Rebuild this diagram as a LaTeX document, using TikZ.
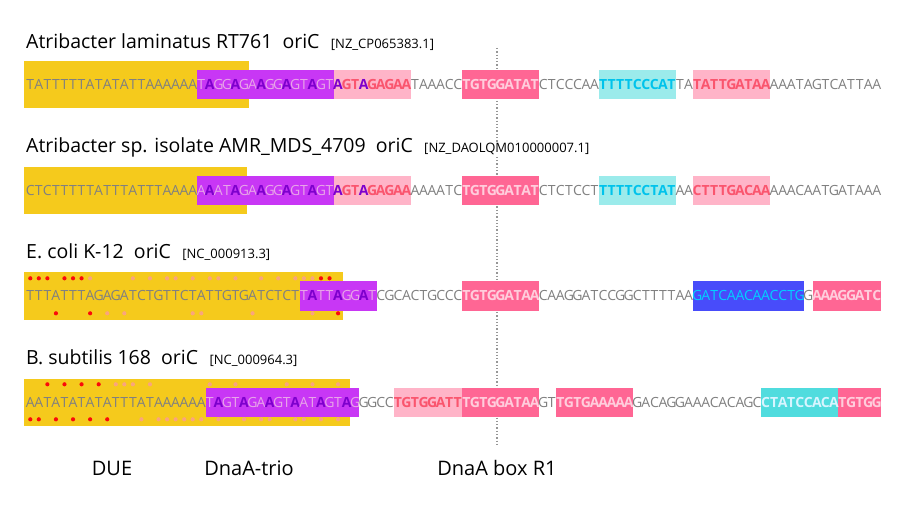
\documentclass[tikz,border=0pt]{standalone}
\usepackage{fontspec}
\setmainfont{Open Sans}
\definecolor{due}{RGB}{245,202,28}
\definecolor{purpbox}{RGB}{200,55,245}
\definecolor{pinkL}{RGB}{255,180,200}
\definecolor{pinkD}{RGB}{255,102,148}
\definecolor{cyanL}{RGB}{155,235,235}
\definecolor{cyanD}{RGB}{80,220,222}
\definecolor{blueB}{RGB}{72,76,250}
\definecolor{gtxt}{RGB}{128,128,128}
\definecolor{pltxt}{RGB}{232,165,232}
\definecolor{pdtxt}{RGB}{125,0,205}
\definecolor{rtxt}{RGB}{250,85,110}
\definecolor{ltxt}{RGB}{255,205,220}
\definecolor{ctxt}{RGB}{0,195,235}
\definecolor{btxt}{RGB}{0,210,255}
\definecolor{c2txt}{RGB}{215,245,255}
\definecolor{reddot}{RGB}{250,10,10}
\definecolor{saldot}{RGB}{250,165,125}
\definecolor{dline}{RGB}{150,150,150}
\newcount\seqidx
\def\rowy{0}
\def\rowid{a}
\newcommand\seqpart[2]{\tikzset{curch/.style={#1}}\seqloop#2\relax}
\def\seqloop#1{\ifx#1\relax\let\seqnext\relax\else\def\seqnext{\seqone{#1}\seqloop}\fi\seqnext}
\newcommand\seqone[1]{\node[seqch,curch,name=ch\rowid\the\seqidx] at ({26+(\the\seqidx+0.5)*8.55},\rowy) {#1};\global\advance\seqidx by 1\relax}
\newcommand\seqbox[4]{\fill[#1] ({26+#2*8.55},{#4-14.5}) rectangle ({26+#3*8.55},{#4+14.5});}
\newcommand\duebox[2]{\fill[due] (24,{#2-23.5}) rectangle (#1,{#2+23.5});}
\newcommand\seqdots[3]{\foreach \i in {#3} \fill[#1] ({26+(\i+0.5)*8.55},#2) circle (2.1);}
\tikzset{
  seqch/.style={inner sep=0pt, anchor=base, font=\fontsize{14}{16}\selectfont},
  gt/.style={text=gtxt},
  pl/.style={text=pltxt},
  pd/.style={text=pdtxt, font=\fontsize{14}{16}\selectfont\bfseries},
  rt/.style={text=rtxt, font=\fontsize{14}{16}\selectfont\bfseries},
  lt/.style={text=ltxt, font=\fontsize{14}{16}\selectfont\bfseries},
  ct/.style={text=ctxt, font=\fontsize{14}{16}\selectfont\bfseries},
  bt/.style={text=btxt},
  c2t/.style={text=c2txt, font=\fontsize{14}{16}\selectfont\bfseries},
  ttl/.style={inner sep=0pt, anchor=base west, fill=white, font=\fontsize{19.5}{22}\selectfont},
  brk/.style={inner sep=0pt, anchor=base west, fill=white, font=\fontsize{13}{15}\selectfont},
  lbl/.style={inner sep=0pt, anchor=base, font=\fontsize{20}{22}\selectfont}
}
\begin{document}
\begin{tikzpicture}[x=1pt,y=-1pt]
\useasboundingbox[fill=white] (0,0) rectangle (900,513);
% dotted guide
\coordinate (dtop) at (497,48);
\coordinate (dbot) at (497,445);
\draw[dline, dotted, line width=1.3pt] (dtop) -- (dbot);
% ---------- row 1
\node[ttl] (t1) at (26,48.5) {Atribacter laminatus RT761\ \ oriC};
\node[brk] (b1) at ([xshift=11]t1.base east) {[NZ\_CP065383.1]};
\duebox{249}{84.5}
\seqbox{purpbox}{20}{36}{84.5}
\seqbox{pinkL}{36}{45}{84.5}
\seqbox{pinkD}{51}{60}{84.5}
\seqbox{cyanL}{67}{76}{84.5}
\seqbox{pinkL}{78}{87}{84.5}
\def\rowy{89.5}\def\rowid{a}\global\seqidx=0
\seqpart{gt}{TATTTTTATATATTAAAAAA}
\seqpart{pl}{T}\seqpart{pd}{A}\seqpart{pl}{GG}\seqpart{pd}{A}\seqpart{pl}{GA}\seqpart{pd}{A}\seqpart{pl}{GG}\seqpart{pd}{A}\seqpart{pl}{GT}\seqpart{pd}{A}\seqpart{pl}{GT}
\seqpart{pd}{A}\seqpart{rt}{GT}\seqpart{pd}{A}\seqpart{rt}{GAGAA}
\seqpart{gt}{TAAACC}
\seqpart{lt}{TGTGGATAT}
\seqpart{gt}{CTCCCAA}
\seqpart{ct}{TTTTCCCAT}
\seqpart{gt}{TA}
\seqpart{rt}{TATTGATAA}
\seqpart{gt}{AAATAGTCATTAA}
% ---------- row 2
\node[ttl] (t2) at (26,153) {Atribacter sp. isolate AMR\_MDS\_4709\ \ oriC};
\node[brk] (b2) at ([xshift=11]t2.base east) {[NZ\_DAOLQM010000007.1]};
\duebox{247}{190.5}
\seqbox{purpbox}{20}{36}{190.5}
\seqbox{pinkL}{36}{45}{190.5}
\seqbox{pinkD}{51}{60}{190.5}
\seqbox{cyanL}{67}{76}{190.5}
\seqbox{pinkL}{78}{87}{190.5}
\def\rowy{195.5}\def\rowid{b}\global\seqidx=0
\seqpart{gt}{CTCTTTTTATTTATTTAAAA}
\seqpart{pl}{A}\seqpart{pd}{A}\seqpart{pl}{AT}\seqpart{pd}{A}\seqpart{pl}{GA}\seqpart{pd}{A}\seqpart{pl}{GG}\seqpart{pd}{A}\seqpart{pl}{GT}\seqpart{pd}{A}\seqpart{pl}{GT}
\seqpart{pd}{A}\seqpart{rt}{GT}\seqpart{pd}{A}\seqpart{rt}{GAGAA}
\seqpart{gt}{AAAATC}
\seqpart{lt}{TGTGGATAT}
\seqpart{gt}{CTCTCCT}
\seqpart{ct}{TTTTCCTAT}
\seqpart{gt}{AA}
\seqpart{rt}{CTTTGACAA}
\seqpart{gt}{AAACAATGATAAA}
% ---------- row 3
\node[ttl] (t3) at (26,258.5) {E. coli K-12\ \ oriC};
\node[brk] (b3) at ([xshift=11]t3.base east) {[NC\_000913.3]};
\duebox{343}{296}
\seqdots{reddot}{278.3}{0,1,2,4,5,6,34,35}
\seqdots{saldot}{278.3}{7,12,14,16,17,19,21,22,24,27,29,31,32,33}
\seqdots{reddot}{313.3}{3,7,36}
\seqdots{saldot}{313.3}{9,11,19,20,26,33}
\seqbox{purpbox}{32}{41}{296}
\seqbox{pinkD}{51}{60}{296}
\seqbox{blueB}{78}{91}{296}
\seqbox{pinkD}{92}{100}{296}
\def\rowy{301}\def\rowid{c}\global\seqidx=0
\seqpart{gt}{TTTATTTAGAGATCTGTTCTATTGTGATCTCT}
\seqpart{pl}{T}\seqpart{pd}{A}\seqpart{pl}{TT}\seqpart{pd}{A}\seqpart{pl}{GG}\seqpart{pd}{A}\seqpart{pl}{T}
\seqpart{gt}{CGCACTGCCC}
\seqpart{lt}{TGTGGATAA}
\seqpart{gt}{CAAGGATCCGGCTTTTAA}
\seqpart{bt}{GATCAACAACCTG}
\seqpart{gt}{G}
\seqpart{lt}{AAAGGATC}
% ---------- row 4
\node[ttl] (t4) at (26,364.5) {B. subtilis 168\ \ oriC};
\node[brk] (b4) at ([xshift=11]t4.base east) {[NC\_000964.3]};
\duebox{350}{402}
\seqdots{reddot}{384.3}{2,4,6,8}
\seqdots{saldot}{384.3}{10,11,12,14,21,24,30,33,36}
\seqdots{reddot}{419.3}{0,1,3,5,7,9}
\seqdots{saldot}{419.3}{13,15,16,17,18,19,20,22,25,27,28,31,32,34,36}
\seqbox{purpbox}{21}{39}{402}
\seqbox{pinkL}{43}{51}{402}
\seqbox{pinkD}{51}{60}{402}
\seqbox{pinkD}{62}{71}{402}
\seqbox{cyanD}{86}{95}{402}
\seqbox{pinkD}{95}{100}{402}
\def\rowy{407}\def\rowid{d}\global\seqidx=0
\seqpart{gt}{AATATATATATTTATAAAAAA}
\seqpart{pl}{T}\seqpart{pd}{A}\seqpart{pl}{GT}\seqpart{pd}{A}\seqpart{pl}{GA}\seqpart{pd}{A}\seqpart{pl}{GT}\seqpart{pd}{A}\seqpart{pl}{AT}\seqpart{pd}{A}\seqpart{pl}{GT}\seqpart{pd}{A}\seqpart{pl}{G}
\seqpart{gt}{GGCC}
\seqpart{rt}{TGTGGATT}
\seqpart{lt}{TGTGGATAA}
\seqpart{gt}{GT}
\seqpart{lt}{TGTGAAAAA}
\seqpart{gt}{GACAGGAAACACAGC}
\seqpart{c2t}{CTATCCACA}
\seqpart{lt}{TGTGG}
% ---------- bottom labels
\node[lbl] (l1) at (112,475) {DUE};
\node[lbl] (l2) at (249,475) {DnaA-trio};
\node[lbl] (l3) at (497,475) {DnaA box R1};
\end{tikzpicture}
\end{document}
